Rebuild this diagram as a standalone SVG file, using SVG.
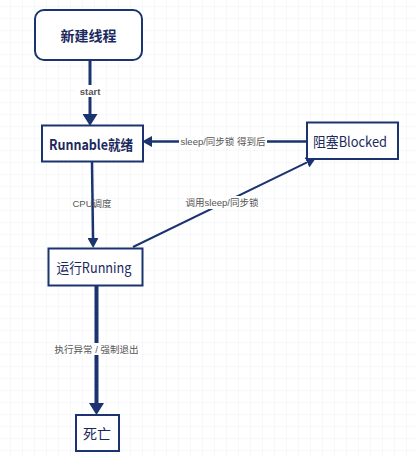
<svg xmlns="http://www.w3.org/2000/svg" width="416" height="456" viewBox="0 0 416 456">
<defs>
<pattern id="grid" x="10" y="6" width="12" height="12" patternUnits="userSpaceOnUse">
<path d="M0,0 V12 M0,0 H12" fill="none" stroke="#eef1f5" stroke-width="1"/>
</pattern>
<marker id="big" markerUnits="userSpaceOnUse" markerWidth="12" markerHeight="15" refX="0" refY="7.5" orient="auto">
<path d="M0,0 L12,7.5 L0,15 z" fill="#1b3470"/>
</marker>
<marker id="small" markerUnits="userSpaceOnUse" markerWidth="10" markerHeight="11" refX="0" refY="5.5" orient="auto">
<path d="M0,0 L10,5.5 L0,11 z" fill="#1b3470"/>
</marker>
<style>
.node{fill:#fff;stroke:#1b3470;stroke-width:2}
.nt{font-family:"Noto Sans CJK SC","DejaVu Sans",sans-serif;font-size:14px;fill:#1b2a5e;text-anchor:middle;dominant-baseline:central}
.edge{fill:none;stroke:#1b3470}
.lb{font-family:"Liberation Sans","Noto Sans CJK SC",sans-serif;font-size:9.5px;fill:#555;text-anchor:middle;dominant-baseline:central}
.lbg{fill:#fff}
</style>
</defs>
<rect width="416" height="456" fill="#fff"/>
<rect width="416" height="456" fill="url(#grid)"/>
<g id="connectors">
<line class="edge" x1="90" y1="60" x2="90" y2="114" stroke-width="3" marker-end="url(#big)"/>
<rect class="lbg" x="76" y="85" width="28" height="12"/>
<text class="lb" x="90" y="91" font-weight="bold" font-size="10">start</text>
<line class="edge" x1="92" y1="162" x2="93" y2="238" stroke-width="2.5" marker-end="url(#small)"/>
<text class="lb" x="92" y="203">CPU调度</text>
<line class="edge" x1="96.5" y1="286" x2="96.5" y2="403" stroke-width="4" marker-end="url(#big)"/>
<rect class="lbg" x="53" y="343" width="87" height="12"/>
<text class="lb" x="96.5" y="349">执行异常 / 强制退出</text>
<line class="edge" x1="307" y1="141.5" x2="152" y2="141.5" stroke-width="2.5" marker-end="url(#small)"/>
<rect class="lbg" x="179" y="135.5" width="88" height="12"/>
<text class="lb" x="223" y="141.5">sleep/同步锁 得到后</text>
<line class="edge" x1="133" y1="247" x2="307" y2="162.4" stroke-width="2" marker-end="url(#small)"/>
<rect class="lbg" x="184" y="196" width="76" height="13"/>
<text class="lb" x="222" y="202.5">调用sleep/同步锁</text>
</g>
<g id="node-new">
<rect class="node" x="35" y="10" width="107" height="50" rx="9" stroke-width="2.5"/>
<text class="nt" x="88.5" y="35" font-weight="bold" textLength="56" lengthAdjust="spacingAndGlyphs">新建线程</text>
</g>
<g id="node-runnable">
<rect class="node" x="42" y="125.5" width="101" height="36"/>
<text class="nt" x="91" y="143.5" font-weight="600" textLength="84" lengthAdjust="spacingAndGlyphs">Runnable就绪</text>
</g>
<g id="node-blocked">
<rect class="node" x="307" y="122.5" width="91" height="36.5"/>
<text class="nt" x="350" y="140.5" textLength="74" lengthAdjust="spacingAndGlyphs">阻塞Blocked</text>
</g>
<g id="node-running">
<rect class="node" x="48.5" y="248.5" width="94" height="37"/>
<text class="nt" x="94" y="267" textLength="75" lengthAdjust="spacingAndGlyphs">运行Running</text>
</g>
<g id="node-dead">
<rect class="node" x="76" y="415" width="43" height="36"/>
<text class="nt" x="97" y="433" textLength="28" lengthAdjust="spacingAndGlyphs">死亡</text>
</g>
</svg>
